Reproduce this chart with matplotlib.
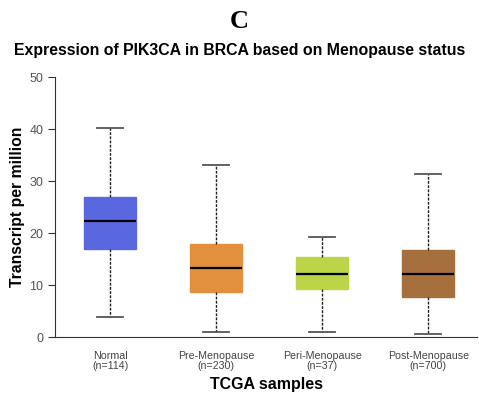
import matplotlib
matplotlib.use('Agg')
import matplotlib.pyplot as plt

plt.rcParams['font.family'] = ['Liberation Sans', 'DejaVu Sans']

groups = ['Normal\n(n=114)', 'Pre-Menopause\n(n=230)', 'Peri-Menopause\n(n=37)', 'Post-Menopause\n(n=700)']
whislo = [3.9, 1.0, 1.0, 0.6]
q1 = [16.9, 8.6, 9.2, 7.7]
med = [22.4, 13.3, 12.2, 12.1]
q3 = [27.0, 17.8, 15.4, 16.7]
whishi = [40.1, 33.1, 19.2, 31.3]
colors = ['#5a68e0', '#e28f3e', '#bcd447', '#a5703e']

stats = []
for i in range(len(groups)):
    stats.append({'whislo': whislo[i], 'q1': q1[i], 'med': med[i],
                  'q3': q3[i], 'whishi': whishi[i], 'fliers': []})

fig = plt.figure(figsize=(4.79, 3.99), dpi=100)
ax = fig.add_axes([55/479, 1 - 337/399, 422/479, 260/399])

bp = ax.bxp(stats, positions=[1, 2, 3, 4], widths=0.49, patch_artist=True,
            showfliers=False,
            medianprops=dict(color='black', linewidth=1.6),
            whiskerprops=dict(color='#222222', linestyle=(0, (2, 1)), linewidth=1),
            capprops=dict(color='#555555', linewidth=1.3),
            boxprops=dict(linewidth=1))
for patch, c in zip(bp['boxes'], colors):
    patch.set_facecolor(c)
    patch.set_edgecolor(c)
    patch.set_alpha(1)
for cap in bp['caps']:
    x = cap.get_xdata()
    mid = (x[0] + x[1]) / 2
    cap.set_xdata([mid - 0.125, mid + 0.125])

ax.set_xlim(0.48, 4.46)
ax.set_ylim(0, 50)
ax.set_yticks([0, 10, 20, 30, 40, 50])
ax.set_xticks([1, 2, 3, 4])
ax.set_xticklabels(groups, fontsize=7.7, color='#444444', linespacing=1.05)
ax.tick_params(axis='x', length=0, pad=10)
ax.tick_params(axis='y', labelsize=9, labelcolor='#555555', color='#333333', length=5)
for s in ['top', 'right']:
    ax.spines[s].set_visible(False)
ax.spines['left'].set_color('#333333')
ax.spines['bottom'].set_color('#333333')
ax.set_ylabel('Transcript per million', fontsize=11.3, fontweight='bold', labelpad=3)
ax.set_xlabel('TCGA samples', fontsize=11.5, fontweight='bold', labelpad=4)

fig.text(0.5, 1 - 21/399, 'C', ha='center', va='center', fontsize=19,
         fontweight='bold', family='Liberation Serif')
fig.text(0.5, 1 - 50/399, 'Expression of PIK3CA in BRCA based on Menopause status',
         ha='center', va='center', fontsize=11.4, fontweight='bold')

fig.savefig('out.png', dpi=100)
